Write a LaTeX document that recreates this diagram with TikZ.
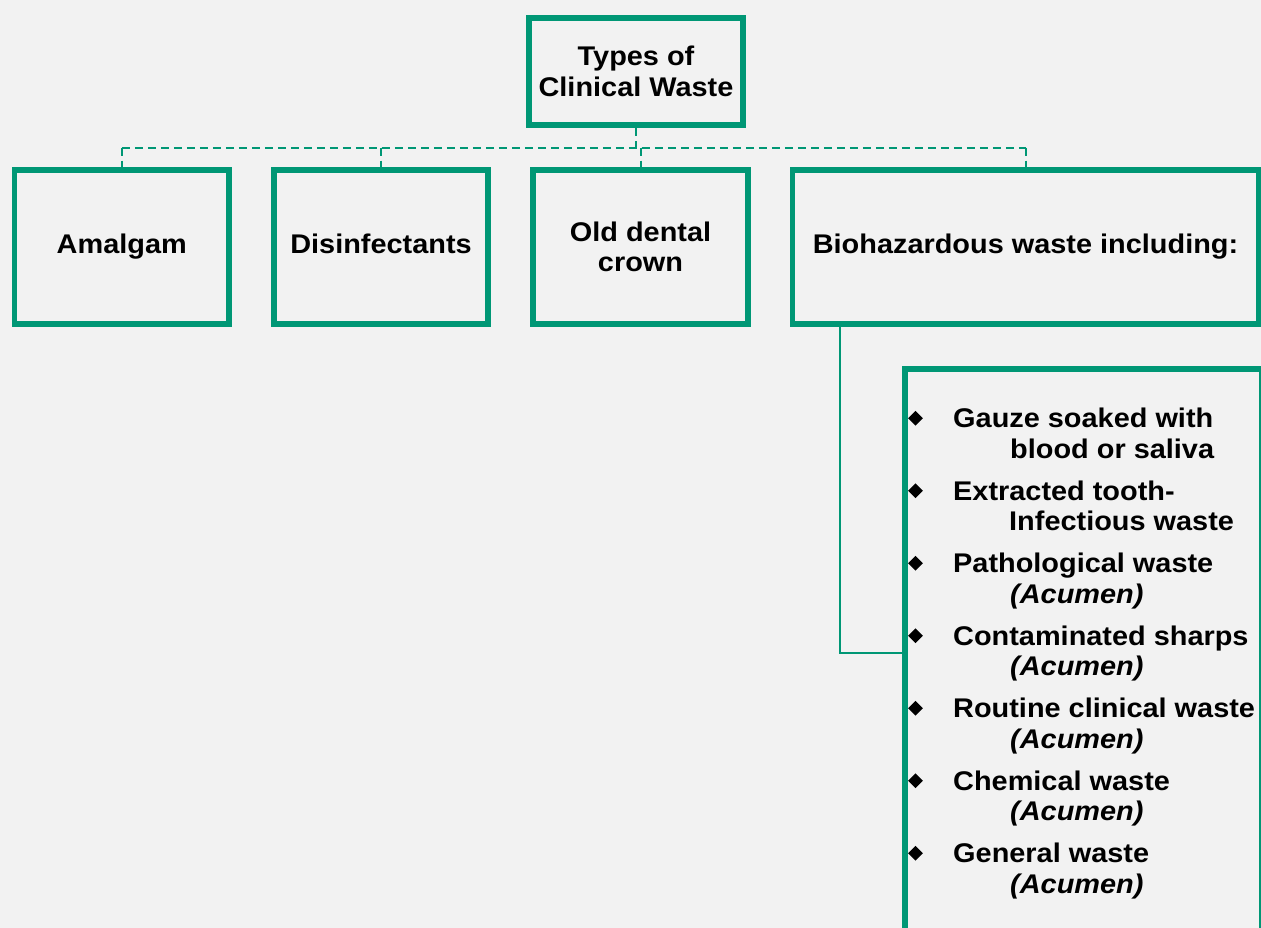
\documentclass[tikz,border=0pt]{standalone}
\usepackage{fontspec}
\setmainfont{Liberation Sans}[FakeStretch=1.07]
\usetikzlibrary{shapes.geometric}
\definecolor{bg}{HTML}{F2F2F2}
\definecolor{grn}{HTML}{009775}
\begin{document}
\begin{tikzpicture}[x=1pt,y=-1pt,
  box/.style={draw=grn, line width=5.7pt, fill=bg, minimum width=214.5pt, minimum height=153.4pt, inner sep=0pt, align=center, font=\fontsize{27}{30.5}\selectfont\bfseries},
  dashline/.style={draw=grn, line width=2pt, dash pattern=on 8pt off 5pt},
  conn/.style={draw=grn, line width=2pt},
  bul/.style={diamond, fill=black, inner sep=0pt, minimum width=15pt, minimum height=15pt},
  itm/.style={anchor=base west, inner sep=0pt, font=\fontsize{27}{30.5}\selectfont\bfseries}]
\fill[bg] (0,0) rectangle (1261,928);
\useasboundingbox (0,0) rectangle (1261,928);
\clip (0,0) rectangle (1261,928);

% boxes
\node[box, minimum height=107.5pt] (top) at (636,71.5) {Types of\\Clinical Waste};
\node[box] (amal) at (121.75,247) {Amalgam};
\node[box] (disin) at (381,247) {Disinfectants\vphantom{g}};
\node[box] (crown) at (640.5,247) {Old dental\\crown};
\node[box, minimum width=466pt] (bio) at (1025.5,247) {Biohazardous waste including:};
\node[draw=grn, line width=5.7pt, fill=bg, minimum width=356.7pt, minimum height=631.2pt, inner sep=0pt] (list) at (1083.65,684.4) {};

% dashed tree connectors
\coordinate (bus) at (0,147.7);
\draw[dashline] (top.south) -- (top.south |- bus);
\draw[dashline] (amal.north |- bus) -- (bio.north |- bus);
\draw[dashline] (amal.north |- bus) -- (amal.north);
\draw[dashline] (disin.north |- bus) -- (disin.north);
\draw[dashline] (crown.north |- bus) -- (crown.north);
\draw[dashline] (bio.north |- bus) -- (bio.north);

% biohazard to list connector
\coordinate (jx) at (840,652.8);
\draw[conn] (bio.south -| jx) |- (jx -| list.west);

% list items
\foreach \i/\y in {1/418.3,2/490.8,3/563.3,4/635.8,5/708.3,6/780.8,7/853.3}
  \node[bul] (b\i) at (915.5,\y) {};

\node[itm] (t1a) at (953,427.7) {Gauze soaked with};
\node[itm] (t1b) at (1010,458.2) {blood or saliva};
\node[itm] (t2a) at (953,500.2) {Extracted tooth-};
\node[itm] (t2b) at (1009,530.7) {Infectious waste};
\node[itm] (t3a) at (953,572.7) {Pathological waste};
\node[itm] (t3b) at (1010,603.2) {\itshape (Acumen)};
\node[itm] (t4a) at (953,645.2) {Contaminated sharps};
\node[itm] (t4b) at (1010,675.7) {\itshape (Acumen)};
\node[itm] (t5a) at (953,717.7) {Routine clinical waste};
\node[itm] (t5b) at (1010,748.2) {\itshape (Acumen)};
\node[itm] (t6a) at (953,790.2) {Chemical waste};
\node[itm] (t6b) at (1010,820.7) {\itshape (Acumen)};
\node[itm] (t7a) at (953,862.7) {General waste};
\node[itm] (t7b) at (1010,893.2) {\itshape (Acumen)};
\end{tikzpicture}
\end{document}
